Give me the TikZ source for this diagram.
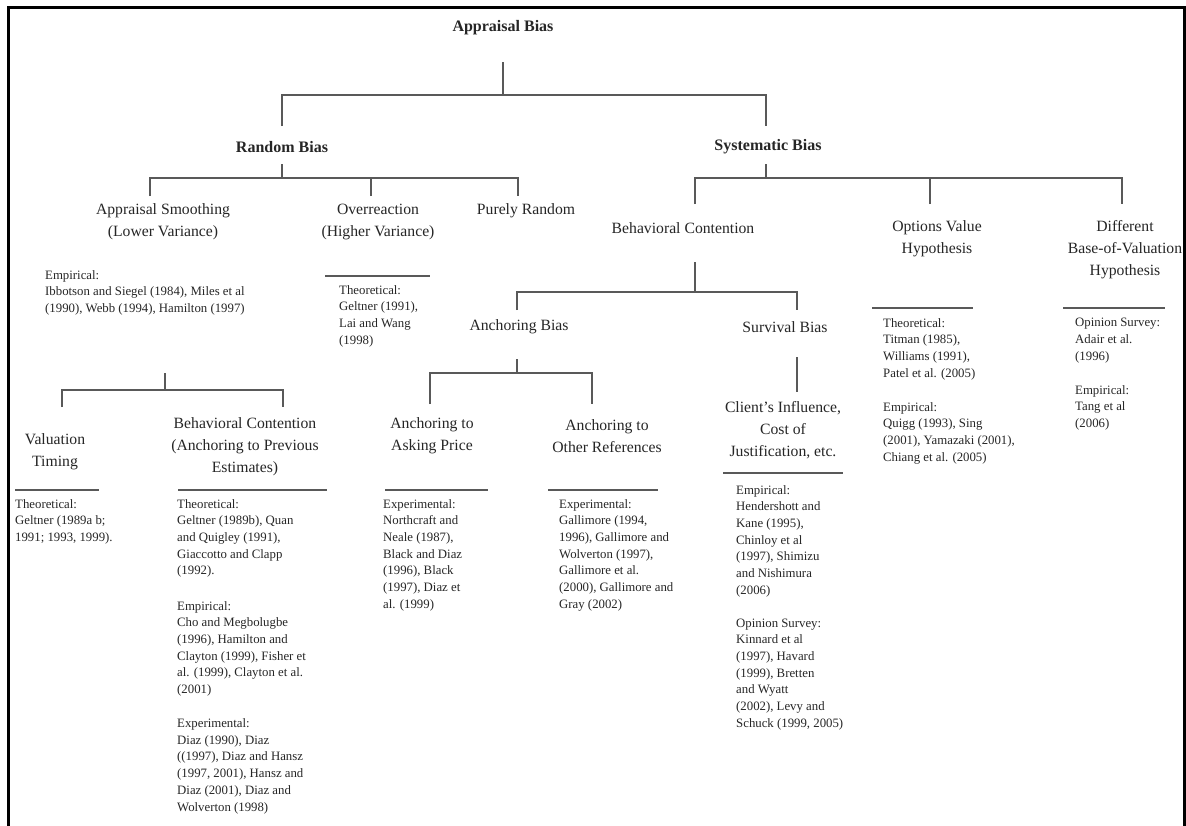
\documentclass[tikz,border=0pt]{standalone}
\usepackage{fontspec}
\setmainfont{Liberation Serif}
\begin{document}
\begin{tikzpicture}[x=1pt,y=-1pt]
\tikzset{
 title/.style={font=\fontsize{16}{19}\selectfont\bfseries, text=black!85, inner sep=0pt},
 head/.style={font=\fontsize{15.7}{22}\selectfont, align=center, text=black!85, inner sep=0pt},
 cite/.style={font=\fontsize{12.8}{16.7}\selectfont, align=left, anchor=north west, text=black!85, inner sep=0pt},
 conn/.style={draw=black!65, line width=1.4pt},
 rule/.style={draw=black!65, line width=1.4pt},
 frame/.style={draw=black, line width=3pt}
}
\useasboundingbox (0,0) rectangle (1186,825);
\fill[white] (0,0) rectangle (1186,825);
\draw[frame] (8,826) -- (8,7) -- (1184,7) -- (1184,826);

% titles
\node[title] (app) at (503,28) {Appraisal Bias};
\node[title] (rnd) at (282,147) {Random Bias};
\node[title] (sys) at (768,147) {Systematic Bias};

% headings
\node[head] (as) at (163,222) {Appraisal Smoothing\\(Lower Variance)};
\node[head] (ov) at (378,222) {Overreaction\\(Higher Variance)};
\node[head] (pr) at (526,211) {Purely Random};
\node[head] (bc) at (683,228) {Behavioral Contention};
\node[head] (ovh) at (937,239) {Options Value\\Hypothesis};
\node[head] (dbv) at (1125,250) {Different\\Base-of-Valuation\\Hypothesis};
\node[head] (ab) at (519,327) {Anchoring Bias};
\node[head] (sb) at (785,327) {Survival Bias};
\node[head] (vt) at (55,452) {Valuation\\Timing};
\node[head] (bca) at (245,447) {Behavioral Contention\\(Anchoring to Previous\\Estimates)};
\node[head] (aap) at (432,436) {Anchoring to\\Asking Price};
\node[head] (aor) at (607,436) {Anchoring to\\Other References};
\node[head] (ci) at (783,430) {Client’s Influence,\\Cost of\\Justification, etc.};

% citation blocks
\node[cite] (asE) at (45,270) {Empirical:\\Ibbotson and Siegel (1984), Miles et al\\(1990), Webb (1994), Hamilton (1997)};
\node[cite] (ovTh) at (339,285) {Theoretical:\\Geltner (1991),\\Lai and Wang\\(1998)};
\node[cite] (vtTh) at (15,499) {Theoretical:\\Geltner (1989a b;\\1991; 1993, 1999).};
\node[cite] (bcaTh) at (177,499) {Theoretical:\\Geltner (1989b), Quan\\and Quigley (1991),\\Giaccotto and Clapp\\(1992).};
\node[cite] (bcaEm) at (177,601) {Empirical:\\Cho and Megbolugbe\\(1996), Hamilton and\\Clayton (1999), Fisher et\\al. (1999), Clayton et al.\\(2001)};
\node[cite] (bcaEx) at (177,718.5) {Experimental:\\Diaz (1990), Diaz\\((1997), Diaz and Hansz\\(1997, 2001), Hansz and\\Diaz (2001), Diaz and\\Wolverton (1998)};
\node[cite] (aapEx) at (383,499) {Experimental:\\Northcraft and\\Neale (1987),\\Black and Diaz\\(1996), Black\\(1997), Diaz et\\al. (1999)};
\node[cite] (aorEx) at (559,499) {Experimental:\\Gallimore (1994,\\1996), Gallimore and\\Wolverton (1997),\\Gallimore et al.\\(2000), Gallimore and\\Gray (2002)};
\node[cite] (ciEm) at (736,485) {Empirical:\\Hendershott and\\Kane (1995),\\Chinloy et al\\(1997), Shimizu\\and Nishimura\\(2006)};
\node[cite] (ciOp) at (736,618.5) {Opinion Survey:\\Kinnard et al\\(1997), Havard\\(1999), Bretten\\and Wyatt\\(2002), Levy and\\Schuck (1999, 2005)};
\node[cite] (ovhTh) at (883,318) {Theoretical:\\Titman (1985),\\Williams (1991),\\Patel et al. (2005)};
\node[cite] (ovhEm) at (883,402) {Empirical:\\Quigg (1993), Sing\\(2001), Yamazaki (2001),\\Chiang et al. (2005)};
\node[cite] (dbvOp) at (1075,318) {Opinion Survey:\\Adair et al.\\(1996)};
\node[cite] (dbvEm) at (1075,385) {Empirical:\\Tang et al\\(2006)};

% underlines
\draw[rule] (15,490) -- (99,490);
\draw[rule] (178,490) -- (327,490);
\draw[rule] (325,276) -- (430,276);
\draw[rule] (385,490) -- (488,490);
\draw[rule] (548,490) -- (658,490);
\draw[rule] (723,473) -- (843,473);
\draw[rule] (872,308) -- (973,308);
\draw[rule] (1063,308) -- (1165,308);

% connectors
\coordinate (a0) at (503,62); \coordinate (a1) at (503,95);
\coordinate (rT) at (282,126); \coordinate (sT) at (766,126);
\draw[conn] (a0) -- (a1);
\draw[conn] (rT) |- (a1) -| (sT);

\coordinate (r0) at (282,164); \coordinate (r1) at (282,178);
\coordinate (asT) at (150,196); \coordinate (ovT) at (371,196); \coordinate (prT) at (518,196);
\draw[conn] (r0) -- (r1);
\draw[conn] (asT) |- (r1) -| (prT);
\draw[conn] (ovT) -- (ovT |- r1);

\coordinate (s0) at (766,164); \coordinate (s1) at (766,178);
\coordinate (bcT) at (695,204); \coordinate (ovhT) at (930,204); \coordinate (dbvT) at (1122,204);
\draw[conn] (s0) -- (s1);
\draw[conn] (bcT) |- (s1) -| (dbvT);
\draw[conn] (ovhT) -- (ovhT |- s1);

\coordinate (b0) at (695,262); \coordinate (b1) at (695,292);
\coordinate (abT) at (517,310); \coordinate (sbT) at (797,310);
\draw[conn] (b0) -- (b1);
\draw[conn] (abT) |- (b1) -| (sbT);

\coordinate (n0) at (517,359); \coordinate (n1) at (517,373);
\coordinate (aapT) at (430,404); \coordinate (aorT) at (592,404);
\draw[conn] (n0) -- (n1);
\draw[conn] (aapT) |- (n1) -| (aorT);

\coordinate (v0) at (797,357); \coordinate (v1) at (797,392);
\draw[conn] (v0) -- (v1);

\coordinate (m0) at (165,373); \coordinate (m1) at (165,390);
\coordinate (vtT) at (62,407); \coordinate (bcaT) at (283,407);
\draw[conn] (m0) -- (m1);
\draw[conn] (vtT) |- (m1) -| (bcaT);
\end{tikzpicture}
\end{document}
